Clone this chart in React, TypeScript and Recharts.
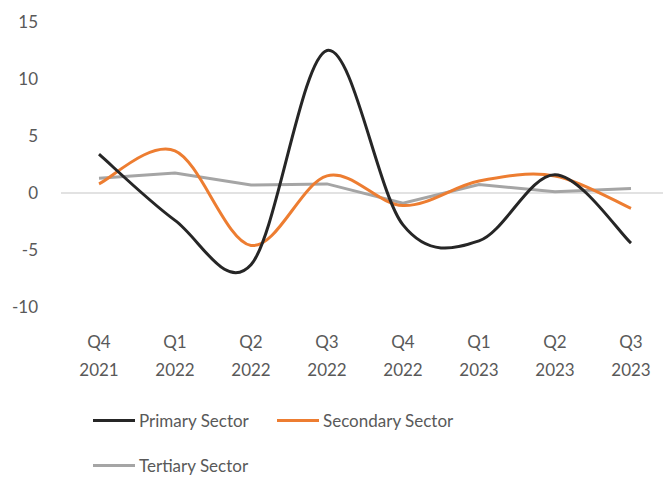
import { LineChart, Line, XAxis, YAxis, ReferenceLine, Legend } from "recharts";

const quarters = ["Q4", "Q1", "Q2", "Q3", "Q4", "Q1", "Q2", "Q3"];
const years = ["2021", "2022", "2022", "2022", "2022", "2023", "2023", "2023"];
const primary = [3.4, -2.4, -6.3, 12.5, -2.8, -4.2, 1.6, -4.4];
const secondary = [0.8, 3.7, -4.6, 1.5, -1.1, 1.05, 1.5, -1.35];
const tertiary = [1.3, 1.75, 0.7, 0.8, -0.9, 0.75, 0.1, 0.4];
const yTicks = [-10, -5, 0, 5, 10, 15];

const data = quarters.map((q, i) => ({
  label: `${q} ${years[i]}`,
  primary: primary[i],
  secondary: secondary[i],
  tertiary: tertiary[i],
}));

const FONT = "Lato, 'Open Sans', sans-serif";
const TEXT = "#595959";

// excel-like smoothed line (catmull-rom through the points)
const smooth = (context: any) => {
  let pts: number[][] = [];
  return {
    areaStart() {},
    areaEnd() {},
    lineStart() {
      pts = [];
    },
    point(x: number, y: number) {
      pts.push([+x, +y]);
    },
    lineEnd() {
      const n = pts.length;
      if (!n) return;
      context.moveTo(pts[0][0], pts[0][1]);
      for (let i = 0; i < n - 1; i++) {
        const p0 = pts[Math.max(i - 1, 0)];
        const p1 = pts[i];
        const p2 = pts[i + 1];
        const p3 = pts[Math.min(i + 2, n - 1)];
        context.bezierCurveTo(
          p1[0] + (p2[0] - p0[0]) / 6,
          p1[1] + (p2[1] - p0[1]) / 6,
          p2[0] - (p3[0] - p1[0]) / 6,
          p2[1] - (p3[1] - p1[1]) / 6,
          p2[0],
          p2[1]
        );
      }
    },
  };
};

const XTick = ({ x, y, index }: any) => (
  <text x={x} y={y} textAnchor="middle" fill={TEXT} fontSize={17} fontFamily={FONT}>
    <tspan x={x} dy={33}>{quarters[index]}</tspan>
    <tspan x={x} dy={28}>{years[index]}</tspan>
  </text>
);

const legendItems = [
  { name: "Primary Sector", color: "#262626", left: 93, top: 33 },
  { name: "Secondary Sector", color: "#ED7D31", left: 277, top: 33 },
  { name: "Tertiary Sector", color: "#A5A5A5", left: 93, top: 78 },
];

const LegendBox = () => (
  <div style={{ position: "relative", width: 663, height: 90, fontFamily: FONT, fontSize: 17, color: TEXT }}>
    {legendItems.map((it) => (
      <div
        key={it.name}
        style={{ position: "absolute", left: it.left, top: it.top - 12, height: 24, display: "flex", alignItems: "center" }}
      >
        <div style={{ width: 42, height: 3, background: it.color, marginRight: 4 }} />
        <span>{it.name}</span>
      </div>
    ))}
  </div>
);

export default function App() {
  return (
    <div style={{ position: "absolute", left: 0, top: 0, width: 663, height: 477, background: "#fff", overflow: "hidden" }}>
      <LineChart width={669} height={477} data={data} margin={{ top: 22, right: 0, left: 0, bottom: 0 }}>
        <XAxis
          dataKey="label"
          axisLine={false}
          tickLine={false}
          height={80}
          interval={0}
          padding={{ left: 38, right: 38 }}
          tick={<XTick />}
        />
        <YAxis
          domain={[-10, 15]}
          ticks={yTicks}
          width={61}
          axisLine={false}
          tickLine={false}
          tickSize={0}
          tickMargin={23}
          tick={{ fill: TEXT, fontSize: 17, fontFamily: FONT }}
        />
        <ReferenceLine y={0} stroke="#D9D9D9" strokeWidth={1.5} />
        <Legend verticalAlign="bottom" height={90} content={<LegendBox />} />
        <Line dataKey="tertiary" name="Tertiary Sector" stroke="#A5A5A5" strokeWidth={3} type="linear" dot={false} isAnimationActive={false} />
        <Line dataKey="secondary" name="Secondary Sector" stroke="#ED7D31" strokeWidth={3} type={smooth as any} dot={false} isAnimationActive={false} />
        <Line dataKey="primary" name="Primary Sector" stroke="#262626" strokeWidth={3} type={smooth as any} dot={false} isAnimationActive={false} />
      </LineChart>
    </div>
  );
}
